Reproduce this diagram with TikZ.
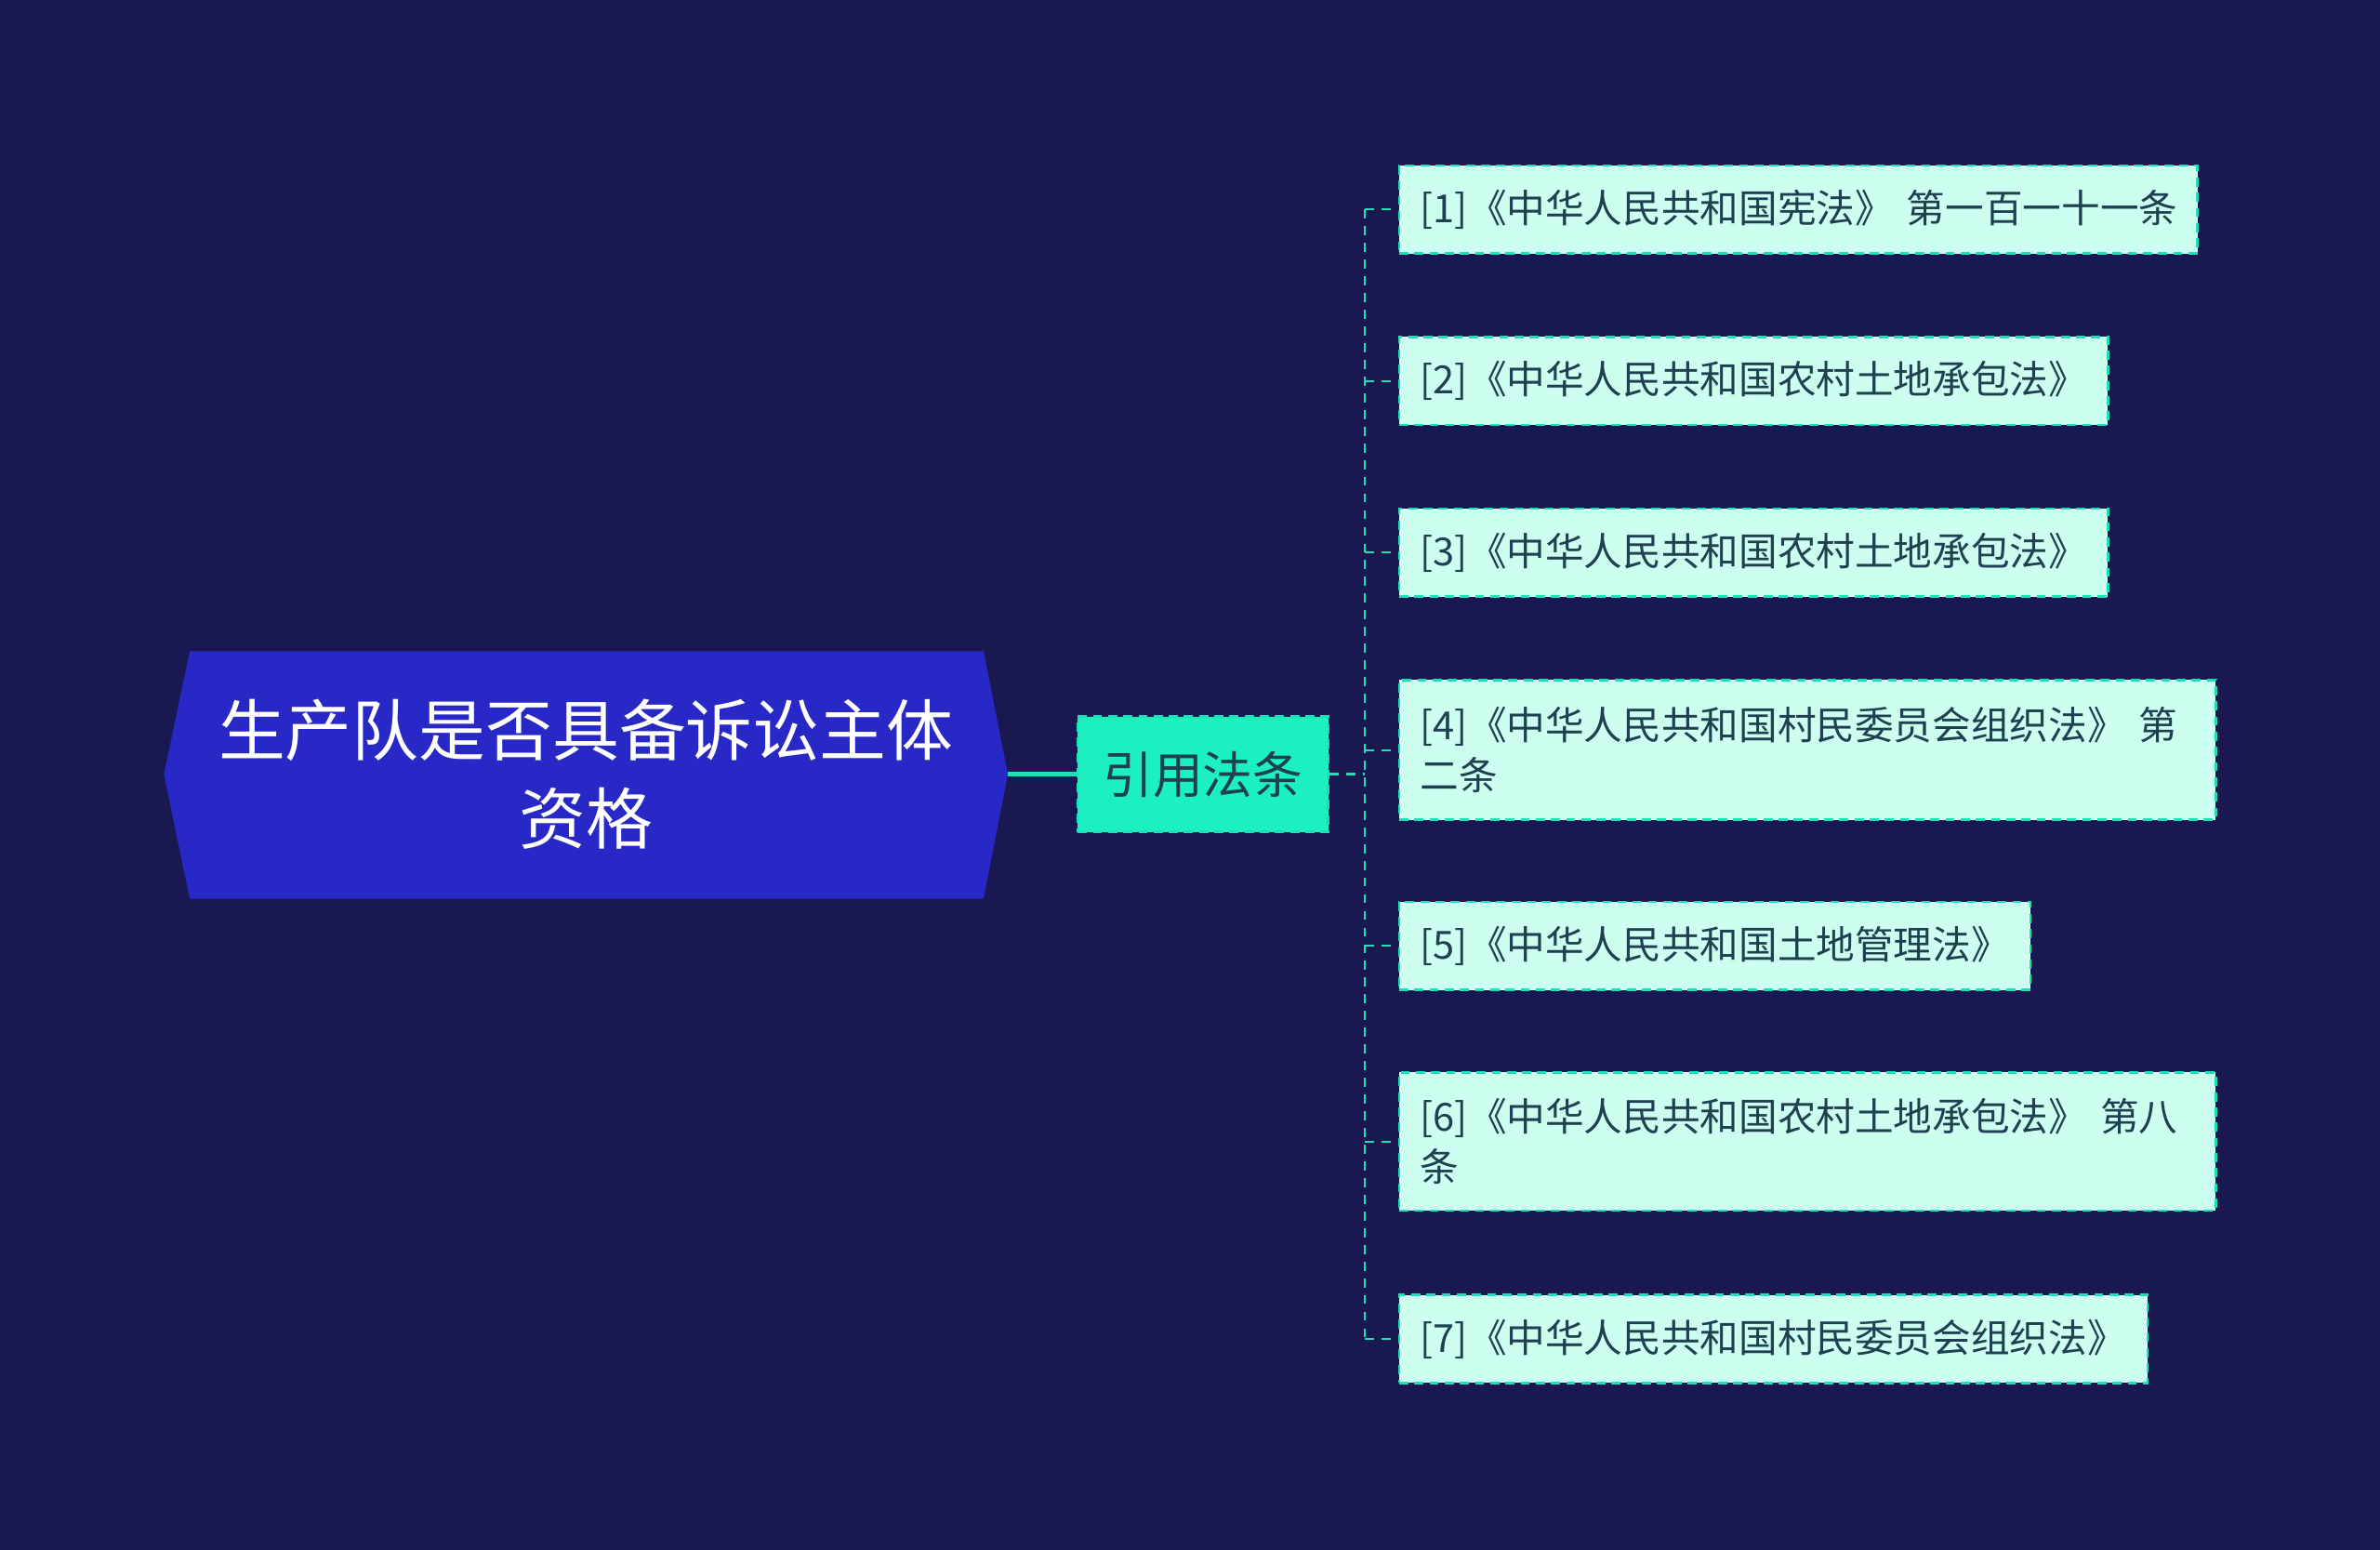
\documentclass[tikz,border=0pt]{standalone}
\usepackage{fontspec}
\setmainfont{Noto Sans CJK SC}
\usetikzlibrary{calc}
\definecolor{bg}{HTML}{1A1850}
\definecolor{rootc}{HTML}{2828C6}
\definecolor{midc}{HTML}{1DF0C0}
\definecolor{leafc}{HTML}{CCFFF0}
\definecolor{leaftxt}{HTML}{1E4050}
\definecolor{linec}{HTML}{1DE0B6}
\begin{document}
\begin{tikzpicture}[x=1pt,y=-1pt,
 leaf/.style={draw=linec,dash pattern=on 6pt off 4pt,line width=1.5pt,fill=leafc,text=leaftxt,font=\fontsize{25.5}{33}\selectfont,anchor=west,align=left,inner xsep=14pt,inner ysep=4pt},
 conn/.style={draw=linec,line width=1.5pt,dashed,dash pattern=on 6pt off 5pt}]
\fill[bg] (0,0) rectangle (1568,1021);
\useasboundingbox (0,0) rectangle (1568,1021);
\fill[rootc] (108,510) -- (125,429) -- (648,429) -- (664,510) -- (648,592) -- (125,592) -- cycle;
\node[text=white,font=\fontsize{44}{58}\selectfont,align=center] (root) at (386,510) {生产队是否具备诉讼主体\\资格};
\coordinate (rootE) at (664,510);
\node[draw=linec,dash pattern=on 6pt off 4pt,line width=1.5pt,fill=midc,text=leaftxt,font=\fontsize{33}{40}\selectfont,minimum width=165pt,minimum height=76pt,inner sep=0pt] (mid) at (792.5,510) {引用法条};
\draw[linec,line width=3pt] (rootE) -- (mid.west);
\coordinate (bus) at (899,510);
\draw[conn] (mid.east) -- (bus);
\node[leaf,minimum width=526pt,minimum height=58pt,text width=498pt] (l1) at (921,138) {\hbox to 0pt{[1]《中华人民共和国宪法》 第一百一十一条\hss}};
\node[leaf,minimum width=467pt,minimum height=58pt,text width=439pt] (l2) at (921,251) {[2]《中华人民共和国农村土地承包法》};
\node[leaf,minimum width=467pt,minimum height=58pt,text width=439pt] (l3) at (921,364) {[3]《中华人民共和国农村土地承包法》};
\node[leaf,minimum width=538pt,minimum height=92pt,text width=510pt] (l4) at (921,494) {[4]《中华人民共和国村民委员会组织法》 第\\二条};
\node[leaf,minimum width=416pt,minimum height=58pt,text width=388pt] (l5) at (921,623) {[5]《中华人民共和国土地管理法》};
\node[leaf,minimum width=538pt,minimum height=91pt,text width=510pt] (l6) at (921,752) {[6]《中华人民共和国农村土地承包法》 第八\\条};
\node[leaf,minimum width=493pt,minimum height=58pt,text width=465pt] (l7) at (921,882) {[7]《中华人民共和国村民委员会组织法》};
\draw[conn,line width=1.2pt] (899,138) -- (899,882);
\foreach \n in {l1,l2,l3,l4,l5,l6,l7}{
 \draw[conn,line width=1.2pt] (\n.west -| bus) -- (\n.west);
}
\end{tikzpicture}
\end{document}
